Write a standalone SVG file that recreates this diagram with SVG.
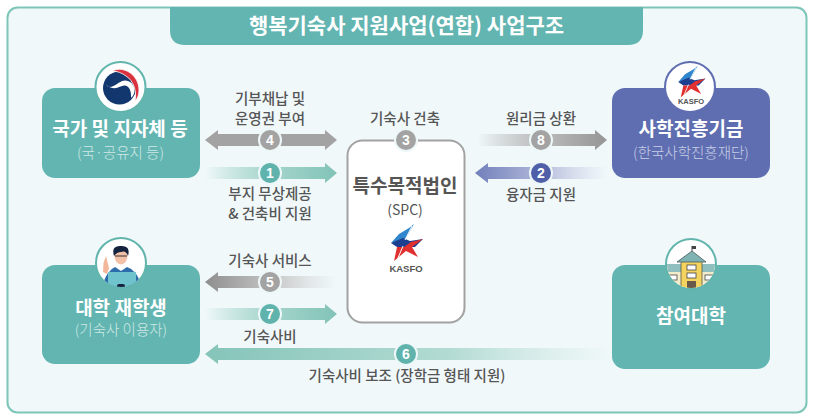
<svg xmlns="http://www.w3.org/2000/svg" xmlns:xlink="http://www.w3.org/1999/xlink" width="813" height="418" viewBox="0 0 813 418">
<style>
text{font-family:"Noto Sans CJK KR","Noto Sans",sans-serif;text-anchor:middle}
.lb{font-size:14.500px;fill:#555;font-weight:500}
.nt{font-size:19px;font-weight:700;fill:#fff}
.ns{font-size:14.500px;fill:#cfe9e6;font-weight:300}
.num{font-size:14px;font-weight:700;fill:#fff;font-family:"Liberation Sans",sans-serif}
.bd{stroke:#eef7f8;stroke-width:2}
.ring{fill:#fff;stroke:#62b5ad;stroke-width:2}
.ks{font-weight:700;fill:#555;font-family:"Liberation Sans",sans-serif}
</style>
<defs>
<linearGradient id="tealR" x1="0" x2="1" y1="0" y2="0"><stop offset="0" stop-color="#8ccabe" stop-opacity="0"/><stop offset=".5" stop-color="#a5d5cc"/><stop offset="1" stop-color="#82c3b7"/></linearGradient>
<linearGradient id="tealL" x1="0" x2="1" y1="0" y2="0"><stop offset="0" stop-color="#85c4b9"/><stop offset=".6" stop-color="#b2dbd3"/><stop offset="1" stop-color="#c4e3dd" stop-opacity="0"/></linearGradient>
<linearGradient id="grayR" x1="0" x2="1" y1="0" y2="0"><stop offset="0" stop-color="#a5a5a5" stop-opacity="0"/><stop offset=".5" stop-color="#bcbcbc"/><stop offset="1" stop-color="#959595"/></linearGradient>
<linearGradient id="grayL" x1="0" x2="1" y1="0" y2="0"><stop offset="0" stop-color="#8e8e8e"/><stop offset=".5" stop-color="#c4c4c4"/><stop offset="1" stop-color="#d5d5d5" stop-opacity="0"/></linearGradient>
<linearGradient id="blueL" x1="0" x2="1" y1="0" y2="0"><stop offset="0" stop-color="#7280bb"/><stop offset=".5" stop-color="#b1b8da"/><stop offset="1" stop-color="#c9cde4" stop-opacity="0"/></linearGradient>
<clipPath id="cp1"><circle cx="121" cy="263" r="24"/></clipPath>
<clipPath id="cp2"><circle cx="691" cy="264" r="24"/></clipPath>
<g id="star">
<polygon points="8,-19 -1,-3 -15,0 -7,-9 3,-15" fill="#2f86cc"/>
<polygon points="-15,0 -3,-5 4,-2 17,-4 9,4 -9,4" fill="#1d3f8f"/>
<polygon points="17,-4 6,4 12,14 0,8 -12,18 -9,4 -2,4 5,-1" fill="#e0302f"/>
<path d="M-8,15L-3,3M6,-17L-1,-3" stroke="#fff" stroke-width="1" fill="none"/>
</g>
</defs>
<rect x="7.500" y="7.500" width="799" height="405" rx="10" fill="#f0f8fa" stroke="#7cc5b8" stroke-width="2"/>
<path id="title-tab" d="M170 7H643V30Q643 45 628 45H185Q170 45 170 30Z" fill="#62b5b1"/>
<text x="406.500" y="33" style="fill:#fff;font-size:21px;font-weight:700">행복기숙사 지원사업(연합) 사업구조</text>

<g id="connectors">
<g id="c4"><polygon points="205,140 218,130 218,134 325,134 325,130 337,140 325,150 325,146 218,146 218,150" fill="#a3a3a3"/></g>
<g id="c1"><polygon points="205,167 325,167 325,163 337,173 325,183 325,179 205,179" fill="url(#tealR)"/></g>
<g id="c5"><polygon points="205,282 218,272 218,276 337,276 337,288 218,288 218,292" fill="url(#grayL)"/></g>
<g id="c7"><polygon points="205,308 325,308 325,304 337,314 325,324 325,320 205,320" fill="url(#tealR)"/></g>
<g id="c6"><polygon points="205,354 218,344 218,348 612,348 612,360 218,360 218,364" fill="url(#tealL)"/></g>
<g id="c8"><polygon points="478,134 595,134 595,130 607,140 595,150 595,146 478,146" fill="url(#grayR)"/></g>
<g id="c2"><polygon points="475,173 488,163 488,167 607,167 607,179 488,179 488,183" fill="url(#blueL)"/></g>
</g>

<g id="node-state">
<rect x="42" y="88" width="158" height="90" rx="13" fill="#62b5b1"/>
<circle class="ring" cx="120.500" cy="87" r="25"/>
<circle cx="119.500" cy="88" r="16.500" fill="#12376f"/>
<path d="M112 71C125 65 139 76 139 90C139 94 138 98 135 101C137 92 134 81 126 76C122 73 117 71 112 71Z" fill="#d9313d" stroke="#fff" stroke-width=".8"/>
<path d="M106 85C111 90 116 84 122 81C128 79 134 83 134.500 90C134.500 94 133 96 131 98C131.500 93 130 86 125 85.500C120 85 116 92 106 85Z" fill="#fff"/>
<text class="nt" x="120" y="136">국가 및 지자체 등</text>
<text class="ns" x="120.500" y="158">(국·공유지 등)</text>
</g>

<g id="node-students">
<rect x="42" y="265" width="158" height="99" rx="13" fill="#62b5b1"/>
<circle cx="121" cy="263" r="25" fill="#fff" stroke="#62b5ad" stroke-width="2"/>
<g clip-path="url(#cp1)">
<path d="M103 283Q108 270 115 267L127 267Q137 270 141 285V290H103Z" fill="#2c6cab"/>
<path d="M115 267L121 271L127 267L124 263H118Z" fill="#fff"/>
<rect x="108" y="272" width="28" height="18" fill="#6fc3cc"/>
<path d="M106 256L107.500 262L109 268L107 274L103 272L103.500 263Z" fill="#f2b79b"/>
<ellipse cx="121" cy="256" rx="6.500" ry="8.500" fill="#f2c0a6"/>
<path d="M114 256Q111 246 120 246Q131 245 128 256Q126 250 121 252Q117 252 114 256Z" fill="#15233f"/>
<path d="M115 256H127" stroke="#333" stroke-width="1"/>
<rect x="117" y="284" width="8" height="6" rx="2" fill="#15233f"/>
</g>
<text class="nt" x="121" y="315">대학 재학생</text>
<text class="ns" x="121" y="335">(기숙사 이용자)</text>
</g>

<g id="node-spc">
<rect x="347.500" y="140.500" width="117" height="182" rx="15" fill="#fff" stroke="#a2a2a2" stroke-width="2"/>
<text x="405" y="193" style="fill:#555;font-size:19px;font-weight:700">특수목적법인</text>
<text x="405" y="215" style="fill:#555;font-size:14px">(SPC)</text>
<use xlink:href="#star" href="#star" x="406" y="243"/>
<text class="ks" x="406" y="272" font-size="9.500">KASFO</text>
</g>

<g id="node-fund">
<rect x="612" y="88" width="158" height="90" rx="13" fill="#5f6eb0"/>
<circle class="ring" cx="690" cy="87" r="25" style="stroke:#5f6eb0"/>
<use xlink:href="#star" href="#star" transform="translate(691 82) scale(.85)"/>
<text class="ks" x="691" y="104" font-size="7.500">KASFO</text>
<text class="nt" x="691" y="136">사학진흥기금</text>
<text class="ns" x="691" y="158" style="fill:#c8cee8">(한국사학진흥재단)</text>
</g>

<g id="node-univ">
<rect x="612" y="265" width="158" height="104" rx="13" fill="#62b5b1"/>
<circle class="ring" cx="691" cy="264" r="25"/>
<g clip-path="url(#cp2)">
<rect x="666" y="265" width="50" height="24" fill="#f2eccb"/>
<rect x="666" y="264" width="16" height="8" fill="#8fc0bf"/>
<rect x="700" y="264" width="16" height="8" fill="#8fc0bf"/>
<rect x="681" y="261" width="21" height="29" fill="#f4d35e" stroke="#5a5a4a" stroke-width=".8"/>
<polygon points="692,251 706,262 677,262" fill="#7fb2b3" stroke="#4a5a5a" stroke-width=".8"/>
<path d="M692 251V246" stroke="#444"/>
<rect x="692" y="246" width="4" height="3" fill="#444"/>
<rect x="687" y="265" width="9" height="5" fill="#fff" stroke="#444" stroke-width=".8"/>
<rect x="687" y="273" width="9" height="5" fill="#fff" stroke="#444" stroke-width=".8"/>
<rect x="687" y="281" width="9" height="10" fill="#6b5a4a"/>
<rect x="669" y="275" width="8" height="5" fill="#fff" stroke="#444" stroke-width=".8"/>
<rect x="705" y="275" width="8" height="5" fill="#fff" stroke="#444" stroke-width=".8"/>
</g>
<text class="nt" x="691" y="323">참여대학</text>
</g>

<g id="badges">
<circle class="bd" cx="270" cy="140" r="11" fill="#a3a3a3"/><text class="num" x="270" y="145">4</text>
<circle class="bd" cx="270" cy="173" r="11" fill="#5fb3ac"/><text class="num" x="270" y="178">1</text>
<circle class="bd" cx="270" cy="282" r="11" fill="#a3a3a3"/><text class="num" x="270" y="287">5</text>
<circle class="bd" cx="270" cy="314" r="11" fill="#5fb3ac"/><text class="num" x="270" y="319">7</text>
<circle class="bd" cx="406" cy="354" r="11" fill="#5fb3ac"/><text class="num" x="406" y="359">6</text>
<circle class="bd" cx="406" cy="140" r="11" fill="#a3a3a3"/><text class="num" x="406" y="145">3</text>
<circle class="bd" cx="541" cy="140" r="11" fill="#a3a3a3"/><text class="num" x="541" y="145">8</text>
<circle class="bd" cx="541" cy="173" r="11" fill="#4f60a8"/><text class="num" x="541" y="178">2</text>
</g>

<g id="labels">
<text class="lb" x="270" y="104">기부채납 및</text>
<text class="lb" x="270" y="124">운영권 부여</text>
<text class="lb" x="270" y="199">부지 무상제공</text>
<text class="lb" x="270" y="219">&amp; 건축비 지원</text>
<text class="lb" x="270" y="266">기숙사 서비스</text>
<text class="lb" x="270" y="342">기숙사비</text>
<text class="lb" x="407" y="381">기숙사비 보조 (장학금 형태 지원)</text>
<text class="lb" x="405" y="124">기숙사 건축</text>
<text class="lb" x="541" y="124">원리금 상환</text>
<text class="lb" x="541" y="200">융자금 지원</text>
</g>
</svg>
